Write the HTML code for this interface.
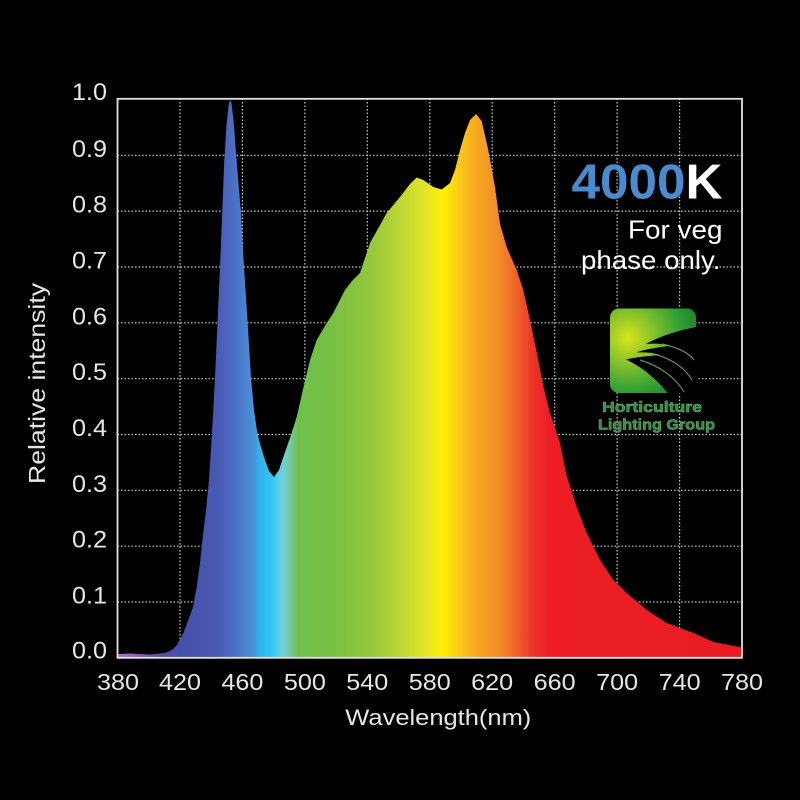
<!DOCTYPE html>
<html>
<head>
<meta charset="utf-8">
<style>
html,body{margin:0;padding:0;background:#000;}
svg{display:block;}
text{font-family:"Liberation Sans",Arial,sans-serif;}
</style>
</head>
<body>
<svg width="800" height="800" viewBox="0 0 800 800" xmlns="http://www.w3.org/2000/svg">
<defs>
<linearGradient id="spec" gradientUnits="userSpaceOnUse" x1="117.5" y1="0" x2="742" y2="0">
<stop offset="0" stop-color="#b070c0"/>
<stop offset="0.05" stop-color="#7a52b4"/>
<stop offset="0.068" stop-color="#5a4caa"/>
<stop offset="0.100" stop-color="#4650aa"/>
<stop offset="0.156" stop-color="#4858b0"/>
<stop offset="0.183" stop-color="#4a6cc4"/>
<stop offset="0.212" stop-color="#4a8ad4"/>
<stop offset="0.231" stop-color="#30b8ee"/>
<stop offset="0.247" stop-color="#2ec8f2"/>
<stop offset="0.263" stop-color="#6ccfe2"/>
<stop offset="0.276" stop-color="#74cca0"/>
<stop offset="0.289" stop-color="#6fc04a"/>
<stop offset="0.340" stop-color="#76c043"/>
<stop offset="0.404" stop-color="#92c83c"/>
<stop offset="0.452" stop-color="#bcd634"/>
<stop offset="0.492" stop-color="#e2e42a"/>
<stop offset="0.521" stop-color="#fff000"/>
<stop offset="0.545" stop-color="#f9cc18"/>
<stop offset="0.577" stop-color="#f7a620"/>
<stop offset="0.612" stop-color="#f28a26"/>
<stop offset="0.641" stop-color="#ee5e28"/>
<stop offset="0.665" stop-color="#ec3428"/>
<stop offset="0.689" stop-color="#ec1e24"/>
<stop offset="1" stop-color="#e81c24"/>
</linearGradient>
<radialGradient id="logoG" gradientUnits="userSpaceOnUse" cx="628" cy="338" r="80">
<stop offset="0" stop-color="#d8e41c"/>
<stop offset="0.3" stop-color="#8cc42c"/>
<stop offset="0.65" stop-color="#34a234"/>
<stop offset="1" stop-color="#157a2a"/>
</radialGradient>
</defs>

<rect x="0" y="0" width="800" height="800" fill="#000"/>

<!-- grid -->
<g stroke="#c4c4c4" stroke-width="1.2" stroke-dasharray="1.6 1.9" fill="none">
<line x1="117.5" y1="155.3" x2="742" y2="155.3"/>
<line x1="117.5" y1="211.1" x2="742" y2="211.1"/>
<line x1="117.5" y1="267.0" x2="742" y2="267.0"/>
<line x1="117.5" y1="322.8" x2="742" y2="322.8"/>
<line x1="117.5" y1="378.7" x2="742" y2="378.7"/>
<line x1="117.5" y1="434.5" x2="742" y2="434.5"/>
<line x1="117.5" y1="490.3" x2="742" y2="490.3"/>
<line x1="117.5" y1="546.2" x2="742" y2="546.2"/>
<line x1="117.5" y1="602.0" x2="742" y2="602.0"/>
<line x1="180.0" y1="98.5" x2="180.0" y2="658"/>
<line x1="242.4" y1="98.5" x2="242.4" y2="658"/>
<line x1="304.9" y1="98.5" x2="304.9" y2="658"/>
<line x1="367.3" y1="98.5" x2="367.3" y2="658"/>
<line x1="429.8" y1="98.5" x2="429.8" y2="658"/>
<line x1="492.2" y1="98.5" x2="492.2" y2="658"/>
<line x1="554.7" y1="98.5" x2="554.7" y2="658"/>
<line x1="617.1" y1="98.5" x2="617.1" y2="658"/>
<line x1="679.6" y1="98.5" x2="679.6" y2="658"/>
</g>

<!-- spectrum -->
<path fill="url(#spec)" d="M118,658 L118,654 L130,653.5 L150,654.5 L165,653 L172,650 L177,645 L183,634 L188,621 L193,607 L196.5,588 L200,563 L203,535 L206,510 L209,480 L212,433 L215,378 L217.5,323 L220,267 L222.3,210 L224.3,160 L226.5,125 L228.5,106 L230,99.5 L231.5,103 L233.5,120 L236,153 L240.7,210 L244,267 L247.7,323 L251,378 L254,410 L257.3,433 L261,447 L265,460 L269,471 L274,477 L279,470 L283.3,457 L290,438 L296.7,417 L303.3,388 L310,360 L316.7,340 L326.7,323 L333.3,313 L345,290 L352,281 L360,273 L370,243 L386.7,213 L400,197 L410,184 L416.7,177.5 L423.3,180 L433.3,187 L441.7,189.5 L450,183 L455,170 L460,150 L465,133 L470,120 L476,114 L481.7,121 L488.3,150 L495,187 L500,224 L506.7,247 L516.7,270 L523.3,290 L530,320 L536.7,352 L543.3,386 L550,413 L560,443 L566.7,476 L576.7,507 L586.7,533 L600,560 L613.3,580 L626.7,593 L646.7,610 L666.7,623 L693.3,633 L713.3,642 L736.7,646.5 L742,647.5 L742,658 Z"/>

<!-- frame -->
<rect x="117.5" y="98.8" width="624.5" height="559" fill="none" stroke="#e2e2e2" stroke-width="1.8"/>

<!-- y tick labels -->
<g fill="#e6e6e6" font-size="24" text-anchor="end">
<text x="107" y="100" textLength="35" lengthAdjust="spacingAndGlyphs">1.0</text>
<text x="107" y="156.8" textLength="35" lengthAdjust="spacingAndGlyphs">0.9</text>
<text x="107" y="212.6" textLength="35" lengthAdjust="spacingAndGlyphs">0.8</text>
<text x="107" y="268.5" textLength="35" lengthAdjust="spacingAndGlyphs">0.7</text>
<text x="107" y="324.3" textLength="35" lengthAdjust="spacingAndGlyphs">0.6</text>
<text x="107" y="380.2" textLength="35" lengthAdjust="spacingAndGlyphs">0.5</text>
<text x="107" y="436.0" textLength="35" lengthAdjust="spacingAndGlyphs">0.4</text>
<text x="107" y="491.8" textLength="35" lengthAdjust="spacingAndGlyphs">0.3</text>
<text x="107" y="547.7" textLength="35" lengthAdjust="spacingAndGlyphs">0.2</text>
<text x="107" y="603.5" textLength="35" lengthAdjust="spacingAndGlyphs">0.1</text>
<text x="107" y="658.5" textLength="35" lengthAdjust="spacingAndGlyphs">0.0</text>
</g>

<!-- x tick labels -->
<g fill="#e6e6e6" font-size="23" text-anchor="middle">
<text x="118" y="690" textLength="42" lengthAdjust="spacingAndGlyphs">380</text>
<text x="180" y="690" textLength="42" lengthAdjust="spacingAndGlyphs">420</text>
<text x="242.4" y="690" textLength="42" lengthAdjust="spacingAndGlyphs">460</text>
<text x="304.9" y="690" textLength="42" lengthAdjust="spacingAndGlyphs">500</text>
<text x="367.3" y="690" textLength="42" lengthAdjust="spacingAndGlyphs">540</text>
<text x="429.8" y="690" textLength="42" lengthAdjust="spacingAndGlyphs">580</text>
<text x="492.2" y="690" textLength="42" lengthAdjust="spacingAndGlyphs">620</text>
<text x="554.7" y="690" textLength="42" lengthAdjust="spacingAndGlyphs">660</text>
<text x="617.1" y="690" textLength="42" lengthAdjust="spacingAndGlyphs">700</text>
<text x="679.6" y="690" textLength="42" lengthAdjust="spacingAndGlyphs">740</text>
<text x="742" y="690" textLength="42" lengthAdjust="spacingAndGlyphs">780</text>
</g>

<!-- axis titles -->
<text x="438.3" y="725" fill="#e6e6e6" font-size="22" text-anchor="middle" textLength="186" lengthAdjust="spacingAndGlyphs">Wavelength(nm)</text>
<text transform="translate(45,383.5) rotate(-90)" x="0" y="0" fill="#e6e6e6" font-size="23" text-anchor="middle" textLength="201" lengthAdjust="spacingAndGlyphs">Relative intensity</text>

<!-- annotation -->
<text x="722.5" y="198.3" font-size="49" font-weight="bold" text-anchor="end" textLength="151" lengthAdjust="spacingAndGlyphs"><tspan fill="#4a8bd0">4000</tspan><tspan fill="#ffffff">K</tspan></text>
<text x="722.5" y="238.3" font-size="26" fill="#ffffff" text-anchor="end" textLength="94.5" lengthAdjust="spacingAndGlyphs">For veg</text>
<text x="720.5" y="269" font-size="26" fill="#ffffff" text-anchor="end" textLength="139.5" lengthAdjust="spacingAndGlyphs">phase only.</text>

<!-- logo -->
<g>
<rect x="610" y="308.5" width="86" height="84.5" rx="9" ry="9" fill="url(#logoG)"/>
<path fill="#000" d="M696.5,327 C680,330 660,336 646,344 C656,343 664,344 670,346 C660,347 646,349 636,352.5 C646,352 654,353 660,355 C650,356 636,357 626,359.5 C640,366 656,378 668,393.5 L696.5,393.5 Z"/>
<g fill="none" stroke="#7fa070" stroke-width="1.2" opacity="0.85">
<path d="M662,344 C676,347 688,352 694,360"/>
<path d="M650,353 C668,357 684,366 692,380"/>
<path d="M640,360 C660,366 676,378 684,392"/>
</g>
<text x="652" y="412" font-size="15" font-weight="bold" fill="#2e8d3e" stroke="#6cb96e" stroke-width="0.5" text-anchor="middle" textLength="100" lengthAdjust="spacingAndGlyphs">Horticulture</text>
<text x="656.5" y="429.5" font-size="15" font-weight="bold" fill="#2e8d3e" stroke="#6cb96e" stroke-width="0.5" text-anchor="middle" textLength="117" lengthAdjust="spacingAndGlyphs">Lighting Group</text>
</g>
</svg>
</body>
</html>
